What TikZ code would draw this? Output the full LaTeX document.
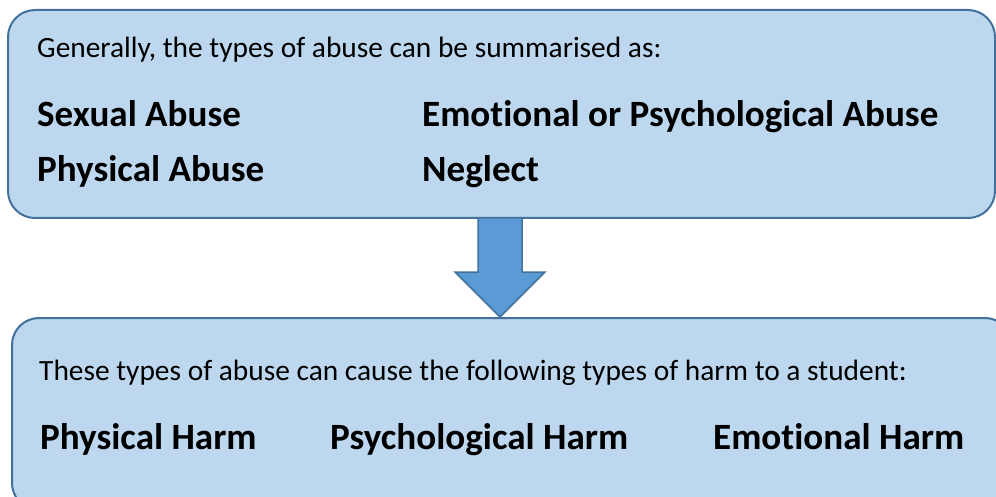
\documentclass[tikz,border=0pt]{standalone}
\usepackage{fontspec}
\setmainfont{Carlito}[Ligatures=NoCommon]
\definecolor{boxfill}{HTML}{BDD7EE}
\definecolor{boxline}{HTML}{41719C}
\definecolor{arrowfill}{HTML}{5B9BD5}
\tikzset{
  panel/.style={draw=boxline, fill=boxfill, line width=2pt, rounded corners=27pt},
  plain/.style={anchor=base west, inner sep=0pt, font=\fontsize{29.4}{34}\selectfont},
  heavy/.style={anchor=base west, inner sep=0pt, font=\fontsize{37.1}{42}\selectfont\bfseries},
}
\begin{document}
\begin{tikzpicture}[x=1pt,y=-1pt]
\useasboundingbox (0,0) rectangle (996,497);
\begin{scope}
\clip (0,0) rectangle (996,497);
\draw[panel] (8,10) rectangle (995,218);
\draw[panel] (12,318) rectangle (1012,510);
\draw[draw=boxline, fill=arrowfill, line width=1.5pt, line join=miter]
  (478,218) -- (522,218) -- (522,272) -- (545,272) -- (500,317) -- (455,272) -- (478,272) -- cycle;
\end{scope}
\node[plain] (intro) at (37,58) {Generally, the types of abuse can be summarised as:};
\node[heavy] (sex) at (37,127) {Sexual Abuse};
\node[heavy] (phys) at (37,182) {Physical Abuse};
\node[heavy] (emo) at (422,127) {Emotional or Psychological Abuse};
\node[heavy] (neg) at (422,182) {Neglect};
\node[plain] (cause) at (39,380) {These types of abuse can cause the following types of harm to a student:};
\node[heavy] (ph) at (40,449) {Physical Harm};
\node[heavy] (psh) at (330,449) {Psychological Harm};
\node[heavy] (eh) at (713,449) {Emotional Harm};
\end{tikzpicture}
\end{document}
